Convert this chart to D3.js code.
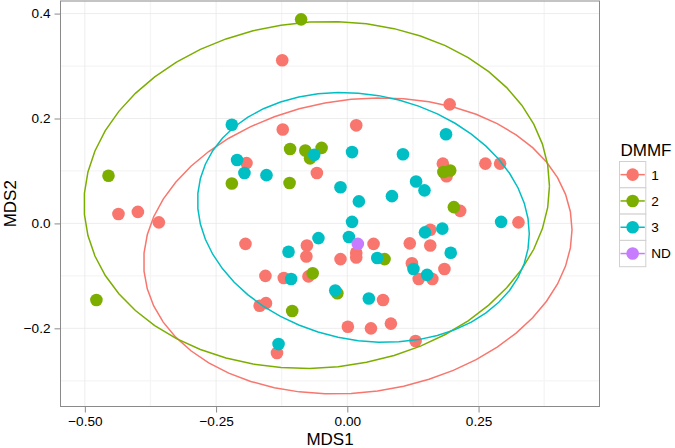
<!DOCTYPE html>
<html><head><meta charset="utf-8">
<script src="https://cdn.jsdelivr.net/npm/d3@7"></script>
<style>body{margin:0;background:#fff;} svg{display:block;font-family:"Liberation Sans",Arial,Helvetica,sans-serif;}</style>
</head><body><svg id="c" width="675" height="448"></svg>
<script>
// ---- data (MDS1, MDS2) per DMMF group ----
const groups = ["1", "2", "3", "ND"];
const colors = ["#F8766D", "#7CAE00", "#00BFC4", "#C77CFF"];
const dmmf1 = [[-0.124,0.311],[0.195,0.227],[-0.123,0.179],[0.017,0.187],[-0.192,0.115],[-0.058,0.096],[0.182,0.114],[0.189,0.090],[0.263,0.114],[0.291,0.114],[0.215,0.024],[0.326,0.002],[0.158,-0.012],[0.119,-0.038],[0.158,-0.042],[-0.436,0.018],[-0.399,0.022],[-0.359,0.002],[-0.194,-0.039],[-0.077,-0.042],[-0.078,-0.063],[-0.013,-0.068],[0.017,-0.056],[0.017,-0.065],[0.050,-0.039],[-0.156,-0.100],[-0.121,-0.104],[-0.074,-0.101],[-0.155,-0.152],[-0.167,-0.157],[0.001,-0.197],[0.045,-0.200],[0.083,-0.191],[0.068,-0.146],[0.123,-0.076],[0.136,-0.106],[0.162,-0.106],[0.185,-0.087],[0.130,-0.224],[-0.134,-0.247]];
const dmmf2 = [[-0.088,0.389],[-0.455,0.091],[-0.478,-0.146],[-0.220,0.076],[-0.109,0.142],[-0.080,0.139],[-0.071,0.124],[-0.049,0.144],[-0.110,0.077],[0.183,0.098],[0.196,0.101],[0.203,0.031],[0.071,-0.068],[-0.066,-0.095],[-0.019,-0.133],[-0.105,-0.167]];
const dmmf3 = [[-0.220,0.188],[-0.210,0.121],[-0.196,0.096],[-0.154,0.092],[-0.063,0.131],[0.009,0.136],[-0.013,0.069],[0.022,0.042],[0.085,0.052],[0.106,0.132],[0.188,0.170],[0.131,0.080],[0.147,0.063],[0.009,0.003],[0.293,0.003],[0.148,-0.017],[0.181,-0.010],[0.197,-0.056],[-0.055,-0.028],[0.003,-0.026],[0.057,-0.066],[-0.112,-0.054],[-0.107,-0.106],[0.126,-0.087],[0.152,-0.098],[-0.023,-0.128],[0.041,-0.143],[-0.131,-0.230]];
const dmmfND = [[0.020,-0.039]];
const groupData = [dmmf1, dmmf2, dmmf3, dmmfND];

const xTicks = [-0.5, -0.25, 0, 0.25];
const xTickLabels = ["\u22120.50", "\u22120.25", "0.00", "0.25"];
const yTicks = [-0.2, 0, 0.2, 0.4];
const yTickLabels = ["\u22120.2", "0.0", "0.2", "0.4"];
const xMinor = [-0.375, -0.125, 0.125, 0.375];
const yMinor = [-0.3, -0.1, 0.1, 0.3];
const xDomain = [-0.5464, 0.4804];
const yDomain = [-0.349, 0.424];

// ---- layout ----
const P = {l: 60.5, r: 599.5, t: 1, b: 406.5};
const x = d3.scaleLinear().domain(xDomain).range([P.l, P.r]);
const y = d3.scaleLinear().domain(yDomain).range([P.b, P.t]);
const svg = d3.select("#c");

// ---- robust t covariance (MASS::cov.trob) + stat_ellipse ----
function covTrob(pts, nu = 5, maxit = 25, tol = 0.01) {
  const n = pts.length, p = 2;
  let w = pts.map(() => 1);
  let loc = [d3.mean(pts, d => d[0]), d3.mean(pts, d => d[1])];
  let X;
  for (let it = 0; it < maxit; it++) {
    const w0 = w.slice();
    X = pts.map(d => [d[0] - loc[0], d[1] - loc[1]]);
    const sw = d3.sum(w);
    let a = 0, b = 0, c = 0;
    X.forEach((v, i) => { a += w[i] / sw * v[0] * v[0]; b += w[i] / sw * v[0] * v[1]; c += w[i] / sw * v[1] * v[1]; });
    const det = a * c - b * b;
    const ia = c / det, ib = -b / det, ic = a / det;
    const Q = X.map(v => ia * v[0] * v[0] + 2 * ib * v[0] * v[1] + ic * v[1] * v[1]);
    w = Q.map(q => (nu + p) / (nu + q));
    const sw2 = d3.sum(w);
    loc = [d3.sum(pts, (d, i) => w[i] * d[0]) / sw2, d3.sum(pts, (d, i) => w[i] * d[1]) / sw2];
    if (w.every((v, i) => Math.abs(v - w0[i]) < tol)) break;
  }
  let a = 0, b = 0, c = 0;
  X.forEach((v, i) => { a += w[i] * v[0] * v[0]; b += w[i] * v[0] * v[1]; c += w[i] * v[1] * v[1]; });
  return {center: loc, cov: [a / n, b / n, c / n]};
}
function ellipse(pts, level = 0.95, segments = 51) {
  const {center, cov} = covTrob(pts);
  const dfd = pts.length - 1;
  const qf = dfd / 2 * (Math.pow(1 - level, -2 / dfd) - 1);
  const radius = Math.sqrt(2 * qf);
  const r11 = Math.sqrt(cov[0]), r12 = cov[1] / r11, r22 = Math.sqrt(cov[2] - r12 * r12);
  return d3.range(segments + 1).map(k => {
    const t = k * 2 * Math.PI / segments, co = Math.cos(t), si = Math.sin(t);
    return [center[0] + radius * co * r11, center[1] + radius * (co * r12 + si * r22)];
  });
}

// ---- panel ----
svg.append("rect").attr("x", P.l).attr("y", P.t).attr("width", P.r - P.l).attr("height", P.b - P.t).attr("fill", "#fff");
const grid = svg.append("g");
grid.selectAll(".xm").data(xMinor).enter().append("line")
  .attr("x1", d => x(d)).attr("x2", d => x(d)).attr("y1", P.t).attr("y2", P.b)
  .attr("stroke", "#f5f5f5").attr("stroke-width", 1.3);
grid.selectAll(".ym").data(yMinor).enter().append("line")
  .attr("y1", d => y(d)).attr("y2", d => y(d)).attr("x1", P.l).attr("x2", P.r)
  .attr("stroke", "#f5f5f5").attr("stroke-width", 1.3);
grid.selectAll(".xM").data(xTicks).enter().append("line")
  .attr("x1", d => x(d)).attr("x2", d => x(d)).attr("y1", P.t).attr("y2", P.b)
  .attr("stroke", "#e8e8e8").attr("stroke-width", 0.8);
grid.selectAll(".yM").data(yTicks).enter().append("line")
  .attr("y1", d => y(d)).attr("y2", d => y(d)).attr("x1", P.l).attr("x2", P.r)
  .attr("stroke", "#e8e8e8").attr("stroke-width", 0.8);

// points
const pts = svg.append("g");
[0, 1, 2, 3].forEach(gi => {
  pts.selectAll(null).data(groupData[gi]).enter().append("circle")
    .attr("cx", d => x(d[0])).attr("cy", d => y(d[1])).attr("r", 6.3)
    .attr("fill", colors[gi]);
});

// ellipses
const line = d3.line().x(d => x(d[0])).y(d => y(d[1]));
[0, 1, 2].forEach(gi => {
  svg.append("path").attr("d", line(ellipse(groupData[gi])))
    .attr("fill", "none").attr("stroke", colors[gi]).attr("stroke-width", 1.5);
});

// border
svg.append("rect").attr("x", P.l).attr("y", P.t).attr("width", P.r - P.l).attr("height", P.b - P.t)
  .attr("fill", "none").attr("stroke", "#8a8a8a").attr("stroke-width", 1);

// axes
const xAxis = d3.axisBottom(x).tickValues(xTicks).tickFormat((d, i) => xTickLabels[i]).tickSize(6).tickPadding(4);
const gx = svg.append("g").attr("transform", `translate(0,${P.b})`).call(xAxis);
gx.select(".domain").remove();
gx.selectAll("line").attr("stroke", "#8a8a8a");
gx.selectAll("text").attr("font-size", 13.6).attr("fill", "#000").attr("font-family", null);
const yAxis = d3.axisLeft(y).tickValues(yTicks).tickFormat((d, i) => yTickLabels[i]).tickSize(6).tickPadding(4);
const gy = svg.append("g").attr("transform", `translate(${P.l},0)`).call(yAxis);
gy.select(".domain").remove();
gy.selectAll("line").attr("stroke", "#8a8a8a");
gy.selectAll("text").attr("font-size", 13.6).attr("fill", "#000").attr("font-family", null);

svg.append("text").attr("x", (P.l + P.r) / 2).attr("y", 444.5).attr("text-anchor", "middle")
  .attr("font-size", 17).text("MDS1");
svg.append("text").attr("transform", `translate(16,${(P.t + P.b) / 2}) rotate(-90)`).attr("text-anchor", "middle")
  .attr("font-size", 17).text("MDS2");

// legend
const lg = svg.append("g");
lg.append("text").attr("x", 620.5).attr("y", 156).attr("font-size", 17).text("DMMF");
const kh = 26.3, kx = 619.5, ky = 161.5, kw = 26.3;
groups.forEach((g, i) => {
  const yy = ky + i * kh;
  lg.append("rect").attr("x", kx).attr("y", yy).attr("width", kw).attr("height", kh)
    .attr("fill", "#fff").attr("stroke", "#d0d0d0").attr("stroke-width", 1);
  lg.append("line").attr("x1", kx + 1).attr("x2", kx + kw - 1).attr("y1", yy + kh / 2).attr("y2", yy + kh / 2)
    .attr("stroke", colors[i]).attr("stroke-width", 1.5);
  lg.append("circle").attr("cx", kx + kw / 2).attr("cy", yy + kh / 2).attr("r", 6.3).attr("fill", colors[i]);
  lg.append("text").attr("x", kx + kw + 5.5).attr("y", yy + kh / 2).attr("dy", "0.36em")
    .attr("font-size", 13.6).text(g);
});
</script></body></html>
